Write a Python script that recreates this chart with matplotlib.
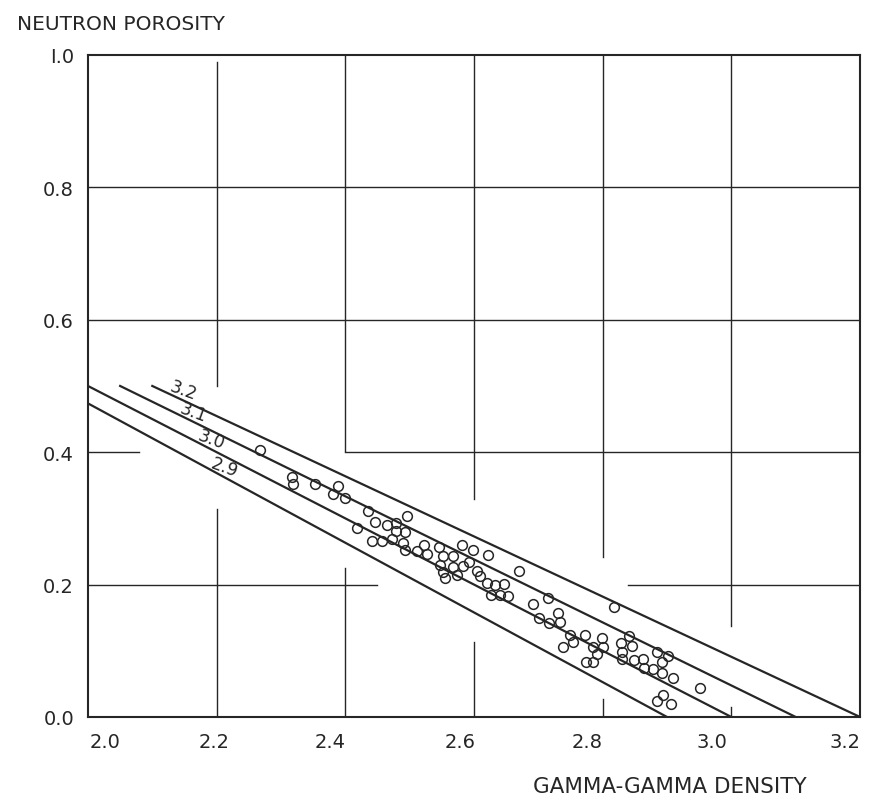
import matplotlib
matplotlib.use("Agg")
import matplotlib.pyplot as plt
import matplotlib.transforms as mtransforms
import numpy as np

# grain densities of the reference lines (g/cc)
grainDensities = [2.9, 3.0, 3.1, 3.2]
grainLabels = ["2.9", "3.0", "3.1", "3.2"]
labelDensity = [2.208, 2.187, 2.159, 2.143]   # where each label sits on its line

# measured samples: bulk density (g/cc) and neutron porosity
density = [
  2.268, 2.317, 2.319, 2.353, 2.389, 2.381, 2.399, 2.435, 2.446, 2.418,
  2.465, 2.479, 2.479, 2.496, 2.493, 2.442, 2.457, 2.473, 2.490, 2.493,
  2.512, 2.523, 2.527, 2.546, 2.552, 2.568, 2.582, 2.599, 2.622, 2.547,
  2.568, 2.583, 2.593, 2.552, 2.555, 2.574, 2.605, 2.610, 2.620, 2.633,
  2.647, 2.627, 2.641, 2.653, 2.670, 2.692, 2.715, 2.701, 2.717, 2.731,
  2.734, 2.818, 2.750, 2.773, 2.754, 2.739, 2.799, 2.785, 2.801, 2.792,
  2.774, 2.785, 2.841, 2.829, 2.846, 2.830, 2.830, 2.848, 2.862, 2.865,
  2.879, 2.885, 2.902, 2.893, 2.893, 2.910, 2.952, 2.894, 2.885, 2.907,
]
porosity = [
  0.403, 0.362, 0.352, 0.352, 0.349, 0.337, 0.331, 0.311, 0.295, 0.286,
  0.290, 0.293, 0.281, 0.304, 0.279, 0.266, 0.266, 0.269, 0.263, 0.252,
  0.251, 0.260, 0.246, 0.257, 0.243, 0.243, 0.260, 0.252, 0.245, 0.229,
  0.226, 0.228, 0.234, 0.219, 0.210, 0.215, 0.220, 0.213, 0.202, 0.199,
  0.201, 0.184, 0.184, 0.183, 0.220, 0.171, 0.180, 0.150, 0.142, 0.157,
  0.143, 0.166, 0.124, 0.124, 0.113, 0.106, 0.119, 0.106, 0.106, 0.095,
  0.083, 0.083, 0.122, 0.112, 0.107, 0.098, 0.088, 0.086, 0.088, 0.074,
  0.073, 0.098, 0.092, 0.083, 0.066, 0.059, 0.044, 0.033, 0.024, 0.020,
]

xTicks = [2.0, 2.2, 2.4, 2.6, 2.8, 3.0, 3.2]
xTickLabels = ["2.0", "2.2", "2.4", "2.6", "2.8", "3.0", "3.2"]
xLabelShift = [17, -3, -15, -14, -16, -19, -15]   # hand lettering offsets, px
yTicks = [0.0, 0.2, 0.4, 0.6, 0.8, 1.0]
yTickLabels = ["0.0", "0.2", "0.4", "0.6", "0.8", "I.0"]

# chart-paper rulings that show through: (x0, x1, y0, y1) in data units
gridSegments = [
  (2.0, 3.2, 0.8, 0.8), (2.0, 3.2, 0.6, 0.6),
  (2.0, 2.08, 0.4, 0.4), (2.4, 3.2, 0.4, 0.4),
  (2.0, 2.45, 0.2, 0.2), (2.84, 3.2, 0.2, 0.2),
  (2.2, 2.2, 0.5, 0.99), (2.2, 2.2, 0.0, 0.314),
  (2.4, 2.4, 0.402, 1.0), (2.4, 2.4, 0.0, 0.225),
  (2.6, 2.6, 0.329, 1.0), (2.6, 2.6, 0.0, 0.113),
  (2.8, 2.8, 0.242, 1.0), (2.8, 2.8, 0.0, 0.027),
  (3.0, 3.0, 0.137, 1.0), (3.0, 3.0, 0.0, 0.015),
]

ink = "#262626"
plt.rcParams["font.family"] = ["DejaVu Sans"]

fig = plt.figure(figsize=(8.77, 8.03), dpi=100)
ax = fig.add_axes([0.1003, 0.1059, 0.8803, 0.8244])
ax.set_xlim(2.0, 3.2)
ax.set_ylim(0.0, 1.0)

for x0, x1, y0, y1 in gridSegments:
  ax.plot([x0, x1], [y0, y1], color=ink, lw=1.0, zorder=1)

# porosity = (grain - bulk) / (grain - fluid), fluid density 1.0, cut at 0.5
for g, lab, xl in zip(grainDensities, grainLabels, labelDensity):
  xStart = max(2.0, (g + 1.0) / 2.0)
  ax.plot([xStart, g], [(g - xStart) / (g - 1.0), 0.0],
          color=ink, lw=1.6, zorder=2)
  ax.text(xl, (g - xl) / (g - 1.0), lab, fontsize=12.5, color=ink,
          rotation=-20, rotation_mode="anchor", ha="center", va="bottom",
          zorder=3)

ax.plot(density, porosity, "o", ms=7, mfc="none", mec=ink, mew=1.1,
        zorder=4, clip_on=False)

for s in ax.spines.values():
  s.set_color(ink)
  s.set_linewidth(1.5)

ax.set_xticks(xTicks)
ax.set_xticklabels(xTickLabels)
ax.set_yticks(yTicks)
ax.set_yticklabels(yTickLabels)
ax.tick_params(length=0, labelsize=14, labelcolor=ink)
ax.tick_params(axis="x", pad=11)
ax.tick_params(axis="y", pad=10)
for lbl, dx in zip(ax.get_xticklabels(), xLabelShift):
  lbl.set_transform(lbl.get_transform() +
                    mtransforms.Affine2D().translate(dx, 0))

fig.text(0.019, 0.969, "NEUTRON POROSITY", fontsize=14.5, color=ink,
         ha="left", va="center")
fig.text(0.764, 0.020, "GAMMA-GAMMA DENSITY", fontsize=15.5, color=ink,
         ha="center", va="center")

fig.savefig("out.png", dpi=100, facecolor="white")
